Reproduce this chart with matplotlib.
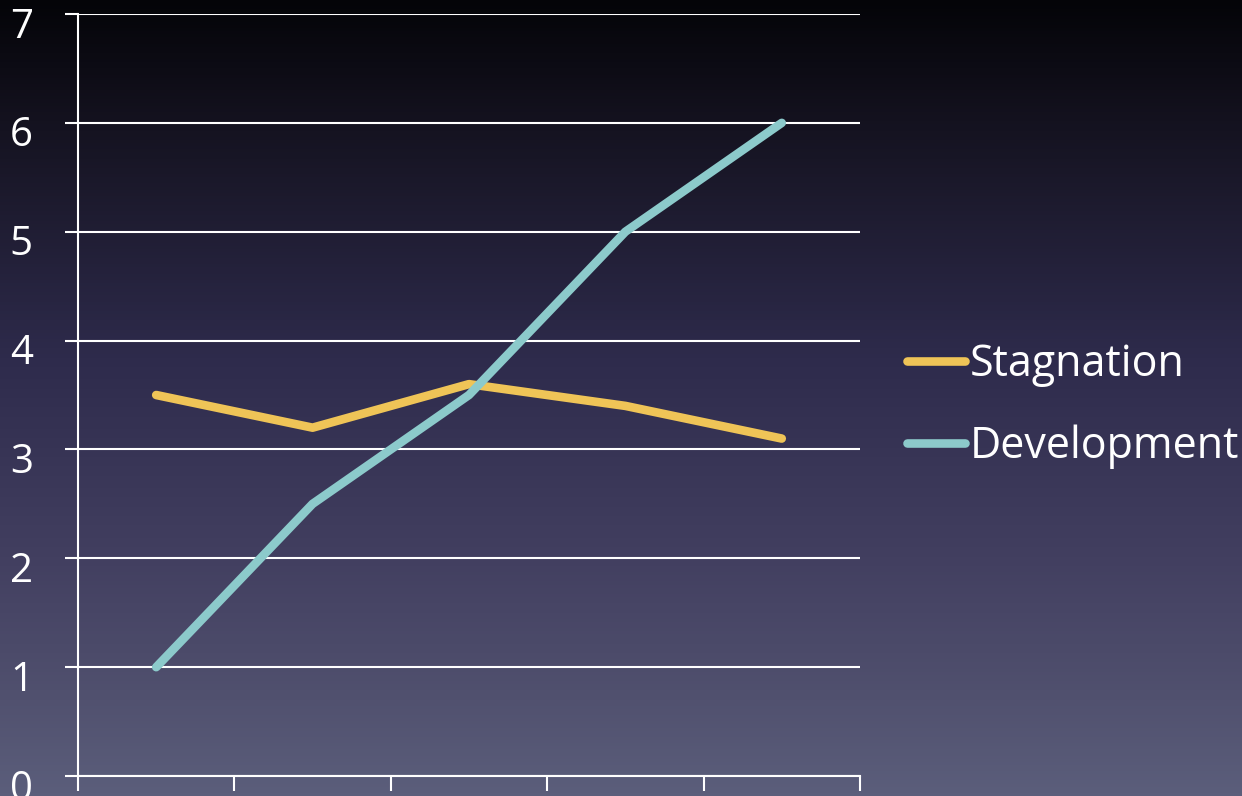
import numpy as np
import matplotlib
matplotlib.use("Agg")
import matplotlib.pyplot as plt
import matplotlib.transforms as mtransforms
from matplotlib.colors import LinearSegmentedColormap

plt.rcParams['font.family'] = ['Open Sans', 'DejaVu Sans']

# Series values
categories = [1, 2, 3, 4, 5]
stagnation = [3.5, 3.2, 3.6, 3.4, 3.1]
development = [1.0, 2.5, 3.5, 5.0, 6.0]
y_ticks = [0, 1, 2, 3, 4, 5, 6, 7]

fig = plt.figure(figsize=(12.42, 7.96), dpi=100)

# Background gradient, dark navy at the top fading to slate at the bottom
bg = fig.add_axes([0, 0, 1, 1], zorder=-10)
grad_cmap = LinearSegmentedColormap.from_list(
    "bg",
    [(0.0, "#040408"), (0.15, "#14121f"), (0.45, "#2e2b4c"),
     (0.7, "#423f60"), (0.88, "#51516f"), (1.0, "#5b5e7b")],
)
bg.imshow(np.linspace(0, 1, 256).reshape(-1, 1), cmap=grad_cmap,
          aspect="auto", extent=[0, 1, 0, 1])
bg.axis("off")

ax = fig.add_axes([0.0628, 0.0251, 0.6296, 0.9573])
ax.patch.set_alpha(0)

ax.plot(categories, stagnation, color="#EFC457", lw=6.2, solid_capstyle="round",
        label="Stagnation", zorder=3)
ax.plot(categories, development, color="#8CCACB", lw=6.2, solid_capstyle="round",
        label="Development", zorder=3)

ax.set_xlim(0.5, 5.5)
ax.set_ylim(0, 7)
ax.set_yticks(y_ticks)
ax.set_xticks(np.arange(0.5, 6.0, 1.0))
ax.set_xticklabels([])
ax.grid(axis="y", color="white", lw=1.5)
ax.set_axisbelow(True)

for side in ["top", "right"]:
    ax.spines[side].set_visible(False)
for side in ["left", "bottom"]:
    ax.spines[side].set_color("white")
    ax.spines[side].set_linewidth(1.5)

ax.tick_params(axis="y", colors="white", length=9.5, width=1.5,
               labelsize=29, pad=23)
ax.tick_params(axis="x", colors="white", length=11, width=1.5)

# nudge the numbers a little below their gridlines
shift = mtransforms.ScaledTranslation(0, -6 / 72, fig.dpi_scale_trans)
for lbl in ax.get_yticklabels():
    lbl.set_transform(lbl.get_transform() + shift)

leg = ax.legend(loc="center left", bbox_to_anchor=(1.011, 0.486),
                frameon=False, fontsize=31, handlelength=1.35,
                handletextpad=0.1, labelspacing=0.88)
for txt in leg.get_texts():
    txt.set_color("white")

fig.savefig("out.png", dpi=100)
